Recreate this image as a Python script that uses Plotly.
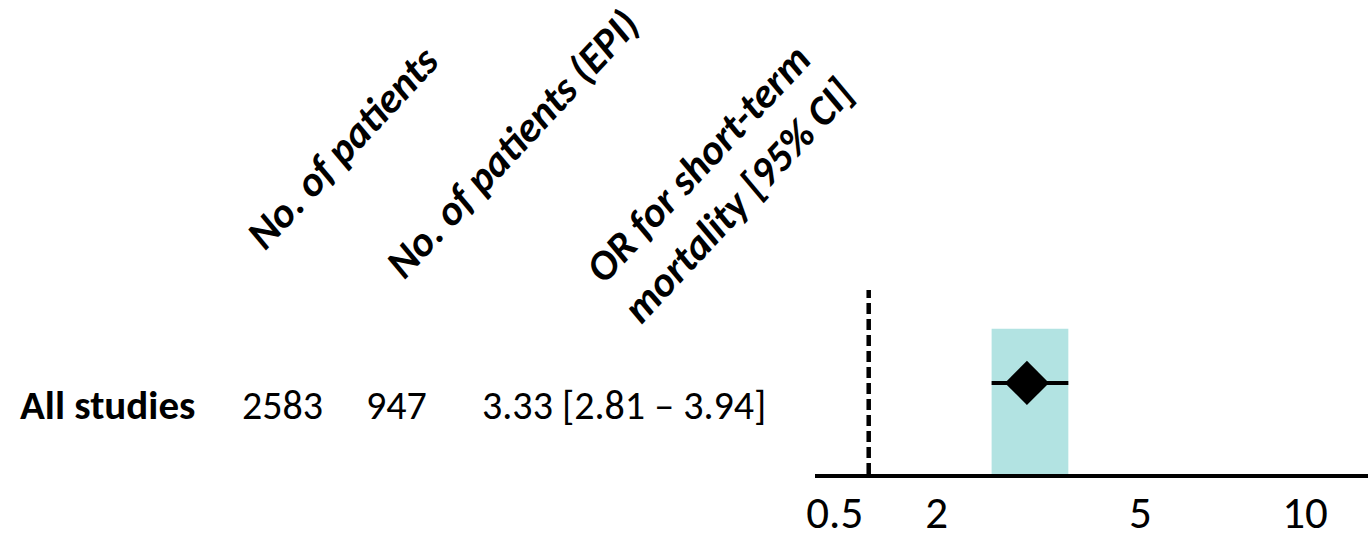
import plotly.graph_objects as go

# ---- data -------------------------------------------------------------
row_labels = ["All studies"]
n_patients = [2583]
n_patients_epi = [947]
or_point = [3.33]
ci_low = [2.81]
ci_high = [3.94]

header_labels = ["No. of patients", "No. of patients (EPI)",
                 "OR for short-term<br>mortality [95% CI]"]

# main axis segment ticks and the compressed tail segment tick
tick_main = [0.5, 2, 5]
tick_tail = [10]
null_value = 1

# ---- canvas helpers ---------------------------------------------------
W, H = 1368, 543
FONT = "Carlito, Lato, sans-serif"


def px(x):
    return x / W


def py(y):
    return 1 - y / H


fig = go.Figure()

# CI band behind the estimate
for lo, hi in zip(ci_low, ci_high):
    fig.add_shape(type="rect", xref="x", yref="y", x0=lo, x1=hi, y0=0, y1=0.79,
                  fillcolor="#b2e3e2", line_width=0, layer="below")

row_y = [0.495] * len(row_labels)

# CI whisker
for lo, hi, yv in zip(ci_low, ci_high, row_y):
    fig.add_trace(go.Scatter(x=[lo, hi], y=[yv, yv], mode="lines",
                             line=dict(color="black", width=4),
                             hoverinfo="skip", showlegend=False))

# point estimate
fig.add_trace(go.Scatter(x=or_point, y=row_y, mode="markers",
                         marker=dict(symbol="diamond", size=34, color="black",
                                     line_width=0),
                         showlegend=False))

# empty trace so the tail axis segment is drawn
fig.add_trace(go.Scatter(x=tick_tail, y=[None], xaxis="x2", yaxis="y",
                         mode="markers", hoverinfo="skip", showlegend=False))

# null line at OR = 1
fig.add_shape(type="line", xref="x", yref="y domain", x0=null_value, x1=null_value,
              y0=0, y1=1, line=dict(color="black", width=4.5, dash="11px,5px"))

# row text
txt_y = py(405)
row_font = dict(family=FONT, size=40, color="black")
for lab, n, ne, o, lo, hi in zip(row_labels, n_patients, n_patients_epi,
                                 or_point, ci_low, ci_high):
    fig.add_annotation(x=px(18), y=txt_y, xref="paper", yref="paper", text=lab,
                       xanchor="left", yanchor="middle", showarrow=False,
                       font=dict(row_font, size=41, weight="bold"))
    fig.add_annotation(x=px(282), y=txt_y, xref="paper", yref="paper", text=str(n),
                       xanchor="center", yanchor="middle", showarrow=False,
                       font=row_font)
    fig.add_annotation(x=px(396), y=txt_y, xref="paper", yref="paper", text=str(ne),
                       xanchor="center", yanchor="middle", showarrow=False,
                       font=row_font)
    fig.add_annotation(x=px(768), y=txt_y, xref="paper", yref="paper",
                       text=f"{o:.2f} [{lo:.2f} \u2013 {hi:.2f}]",
                       xanchor="right", yanchor="middle", showarrow=False,
                       font=row_font)

# rotated column headers
header_pos = [(342, 147), (512, 143), (718, 182)]
for lab, (hx, hy) in zip(header_labels, header_pos):
    fig.add_annotation(x=px(hx), y=py(hy), xref="paper", yref="paper", text=lab,
                       textangle=-47, xanchor="center", yanchor="middle",
                       showarrow=False, align="center",
                       font=dict(family=FONT, size=42, color="black",
                                 weight="bold", style="italic"))

axis_common = dict(showline=True, linecolor="black", linewidth=4, showgrid=False,
                   zeroline=False, ticks="", automargin=False,
                   ticklabelstandoff=-4,
                   tickfont=dict(family=FONT, size=45, color="black"),
                   fixedrange=True)

split = 1240
fig.update_layout(
    width=W, height=H,
    margin=dict(l=0, r=0, t=0, b=0, pad=0, autoexpand=False),
    paper_bgcolor="white", plot_bgcolor="white",
    showlegend=False,
    xaxis=dict(domain=[px(815), px(split)], range=[0.209, 6.468],
               tickvals=tick_main, ticktext=[f"{v:g}" for v in tick_main],
               **axis_common),
    xaxis2=dict(domain=[px(split), 1], range=[9.043, 10.928], anchor="y",
                tickvals=tick_tail, ticktext=[f"{v:g}" for v in tick_tail],
                **axis_common),
    yaxis=dict(domain=[py(474), py(290)], range=[0, 1], visible=False,
               fixedrange=True, automargin=False),
)

fig.write_html("out.html")
